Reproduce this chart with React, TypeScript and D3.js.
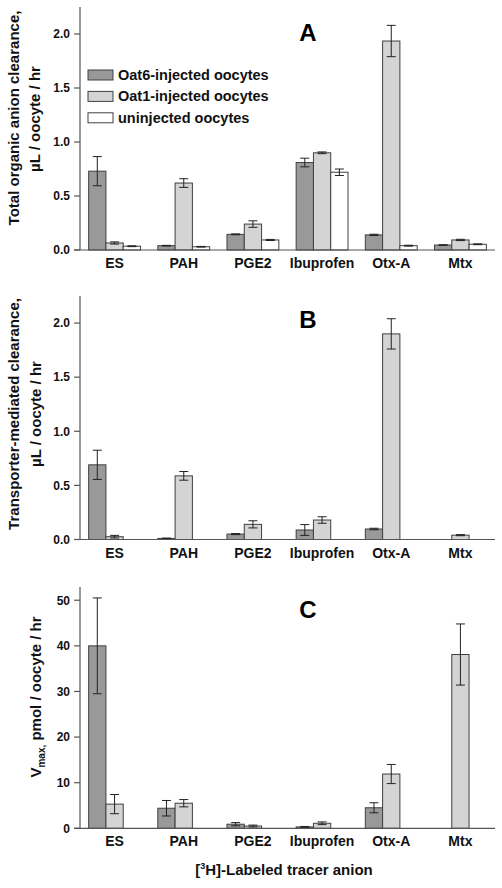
import React from "react";
import * as d3 from "d3";

const categories = ["ES", "PAH", "PGE2", "Ibuprofen", "Otx-A", "Mtx"];
const seriesNames = ["Oat6-injected oocytes", "Oat1-injected oocytes", "uninjected oocytes"];

// Panel A: total organic anion clearance (µL / oocyte / hr)
const oat6A = [0.73, 0.04, 0.145, 0.81, 0.14, 0.046];
const oat6AErr = [0.135, 0.003, 0.004, 0.04, 0.006, 0.003];
const oat1A = [0.065, 0.62, 0.24, 0.9, 1.935, 0.093];
const oat1AErr = [0.01, 0.04, 0.03, 0.008, 0.145, 0.006];
const uninjA = [0.035, 0.03, 0.093, 0.72, 0.04, 0.053];
const uninjAErr = [0.004, 0.003, 0.005, 0.03, 0.004, 0.004];

// Panel B: transporter-mediated clearance
const oat6B = [0.69, 0.01, 0.05, 0.088, 0.097, null];
const oat6BErr = [0.135, 0.003, 0.005, 0.05, 0.007, null];
const oat1B = [0.026, 0.588, 0.14, 0.18, 1.9, 0.04];
const oat1BErr = [0.012, 0.04, 0.033, 0.03, 0.14, 0.005];

// Panel C: Vmax (pmol / oocyte / hr)
const oat6C = [40, 4.4, 0.9, 0.3, 4.5, null];
const oat6CErr = [10.5, 1.7, 0.35, 0.1, 1.1, null];
const oat1C = [5.3, 5.5, 0.5, 1.1, 11.9, 38.1];
const oat1CErr = [2.1, 0.8, 0.2, 0.3, 2.1, 6.7];

const ticksAB = [0, 0.5, 1.0, 1.5, 2.0];
const ticksC = [0, 10, 20, 30, 40, 50];

const fills = ["#999999", "#d4d4d4", "#ffffff"];
const FONT = "'Liberation Sans', Arial, Helvetica, sans-serif";

type Series = { values: (number | null)[]; errs: (number | null)[]; slot: number };

function Panel(props: {
  top: number;
  bottom: number;
  max: number;
  ticks: number[];
  fmt: (v: number) => string;
  series: Series[];
  letter: string;
  letterY: number;
}) {
  const { top, bottom, max, ticks, fmt, series, letter, letterY } = props;
  const left = 80;
  const right = 495;
  const x0 = d3.scaleBand<string>().domain(categories).range([left, right]).paddingInner(0.25).paddingOuter(0.125);
  const x1 = d3.scaleBand<number>().domain([0, 1, 2]).range([0, x0.bandwidth()]);
  const y = d3.scaleLinear().domain([0, max]).range([bottom, top]);
  const cap = 4.5;
  return (
    <g>
      {series.map((s) =>
        s.values.map((v, i) => {
          if (v === null || v === undefined) return null;
          const bx = (x0(categories[i]) as number) + (x1(s.slot) as number);
          const bw = x1.bandwidth();
          const e = s.errs[i] || 0;
          const cx = bx + bw / 2;
          return (
            <g key={`${s.slot}-${i}`}>
              <rect x={bx} y={y(v)} width={bw} height={y(0) - y(v)} fill={fills[s.slot]} stroke="#404040" strokeWidth={1} />
              {e > 0 && (
                <g stroke="#222" strokeWidth={1}>
                  <line x1={cx} x2={cx} y1={y(v + e)} y2={y(Math.max(0, v - e))} />
                  <line x1={cx - cap} x2={cx + cap} y1={y(v + e)} y2={y(v + e)} />
                  <line x1={cx - cap} x2={cx + cap} y1={y(Math.max(0, v - e))} y2={y(Math.max(0, v - e))} />
                </g>
              )}
            </g>
          );
        })
      )}
      <line x1={left} x2={left} y1={top} y2={bottom} stroke="#555" strokeWidth={1.2} />
      <line x1={left - 6} x2={right} y1={bottom} y2={bottom} stroke="#555" strokeWidth={1.2} />
      {ticks.map((t) => (
        <g key={t}>
          <line x1={left - 6} x2={left} y1={y(t)} y2={y(t)} stroke="#555" strokeWidth={1.2} />
          <text x={left - 10} y={y(t)} dy="0.36em" textAnchor="end" fontSize={12} fontWeight="bold" fontFamily={FONT} fill="#111">
            {fmt(t)}
          </text>
        </g>
      ))}
      {categories.map((c) => (
        <text key={c} x={(x0(c) as number) + x0.bandwidth() / 2} y={bottom + 18} textAnchor="middle" fontSize={14} fontWeight="bold" fontFamily={FONT} fill="#111">
          {c}
        </text>
      ))}
      <text x={308} y={letterY} textAnchor="middle" fontSize={24} fontWeight="bold" fontFamily={FONT} fill="#000">
        {letter}
      </text>
    </g>
  );
}

export default function App() {
  const f1 = d3.format(".1f");
  const f0 = d3.format("d");
  return (
    <svg width={502} height={888} style={{ position: "absolute", left: 0, top: 0, background: "#fff" }}>
      <rect width={502} height={888} fill="#fff" />
      <Panel
        top={7}
        bottom={250}
        max={2.25}
        ticks={ticksAB}
        fmt={f1}
        letter="A"
        letterY={41}
        series={[
          { values: oat6A, errs: oat6AErr, slot: 0 },
          { values: oat1A, errs: oat1AErr, slot: 1 },
          { values: uninjA, errs: uninjAErr, slot: 2 },
        ]}
      />
      <Panel
        top={296}
        bottom={539.5}
        max={2.25}
        ticks={ticksAB}
        fmt={f1}
        letter="B"
        letterY={328}
        series={[
          { values: oat6B, errs: oat6BErr, slot: 0 },
          { values: oat1B, errs: oat1BErr, slot: 1 },
        ]}
      />
      <Panel
        top={587}
        bottom={828.3}
        max={52.9}
        ticks={ticksC}
        fmt={f0}
        letter="C"
        letterY={618}
        series={[
          { values: oat6C, errs: oat6CErr, slot: 0 },
          { values: oat1C, errs: oat1CErr, slot: 1 },
        ]}
      />
      {/* Legend */}
      {seriesNames.map((n, i) => {
        const cy = 75 + i * 21.4;
        return (
          <g key={n}>
            <rect x={88} y={cy - 5} width={25} height={10} fill={fills[i]} stroke="#404040" strokeWidth={1} />
            <text x={118} y={cy + 5} fontSize={14.5} fontWeight="bold" fontFamily={FONT} fill="#111">
              {n}
            </text>
          </g>
        );
      })}
      {/* Y titles */}
      <g fontSize={15} fontWeight="bold" fontFamily={FONT} fill="#111" textAnchor="middle">
        <text transform="translate(19,118) rotate(-90)">Total organic anion clearance,</text>
        <text transform="translate(40,119) rotate(-90)">µL / oocyte / hr</text>
        <text transform="translate(19,414) rotate(-90)">Transporter-mediated clearance,</text>
        <text transform="translate(41,414) rotate(-90)">µL / oocyte / hr</text>
        <text transform="translate(41,697) rotate(-90)">
          V<tspan fontSize={10} dy={4}>max,</tspan>
          <tspan dy={-4}> pmol / oocyte / hr</tspan>
        </text>
        <text x={284} y={875}>
          [<tspan fontSize={9} dy={-6}>3</tspan>
          <tspan dy={6}>H]-Labeled tracer anion</tspan>
        </text>
      </g>
    </svg>
  );
}
